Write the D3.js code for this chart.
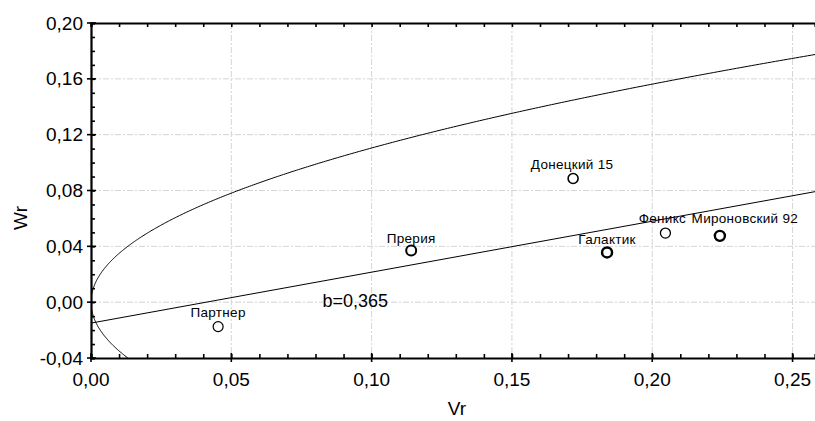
<!DOCTYPE html>
<html><head><meta charset="utf-8">
<script src="https://cdn.jsdelivr.net/npm/d3@7"></script>
<style>body{margin:0;background:#fff}svg{display:block}text{font-family:"Liberation Sans",Arial,sans-serif}</style>
</head><body><svg id="c" width="815" height="421"></svg>
<script>
// Data
const names = ["Партнер","Прерия","Донецкий 15","Галактик","Феникс","Мироновский 92"];
const vr = [0.0453, 0.1141, 0.1718, 0.1839, 0.2047, 0.2241];
const wr = [-0.0175, 0.0370, 0.0886, 0.0356, 0.0495, 0.0475];
const xTicks = [0, 0.05, 0.10, 0.15, 0.20, 0.25];
const yTicks = [-0.04, 0, 0.04, 0.08, 0.12, 0.16, 0.20];
const regA = -0.0150, regB = 0.365;   // regression Wr = a + b*Vr
const parabolaVp = 0.122;             // limiting parabola Wr^2 = Vp*Vr
const slopeLabel = "b=0,365";

const svg = d3.select("#c");
const W = 815, H = 421;
const m = {l: 91, t: 23, r: 0, b: 63};
const x = d3.scaleLinear().domain([0, 0.258]).range([m.l, W - m.r]);
const y = d3.scaleLinear().domain([-0.04, 0.20]).range([H - m.b, m.t]);
const fmt = d => d3.format(".2f")(d).replace(".", ",").replace("−", "-");

const clipId = "pc";
svg.append("clipPath").attr("id", clipId).append("rect")
  .attr("x", m.l).attr("y", m.t).attr("width", W - m.r - m.l).attr("height", H - m.b - m.t);

// grid
const g = svg.append("g");
g.selectAll(".gx").data(xTicks.filter(d => d > 0)).join("line")
  .attr("x1", d => x(d)).attr("x2", d => x(d)).attr("y1", m.t).attr("y2", H - m.b)
  .attr("stroke", "#d4d4d4").attr("stroke-dasharray", "6,2,2,2");
g.selectAll(".gy").data(yTicks.filter(d => d > -0.04 && d < 0.2)).join("line")
  .attr("x1", m.l).attr("x2", W - m.r).attr("y1", d => y(d)).attr("y2", d => y(d))
  .attr("stroke", "#d4d4d4").attr("stroke-dasharray", "6,2,2,2");

// curves
const plot = svg.append("g").attr("clip-path", `url(#${clipId})`);
const line = d3.line().x(d => x(d[0])).y(d => y(d[1]));
const parab = [];
for (let w = -0.06; w <= 0.2; w += 0.0005) parab.push([w * w / parabolaVp, w]);
plot.append("path").attr("d", line(parab)).attr("fill", "none").attr("stroke", "#000").attr("stroke-width", 1);
const reg = x.domain().map(v => [v, regA + regB * v]);
plot.append("path").attr("d", line(reg)).attr("fill", "none").attr("stroke", "#000").attr("stroke-width", 1);

// axes
const axB = d3.axisBottom(x).tickValues(d3.range(0, 0.2581, 0.01)).tickSize(-4).tickFormat("");
const axT = d3.axisTop(x).tickValues(d3.range(0, 0.2581, 0.01)).tickSize(-4).tickFormat("");
const axL = d3.axisLeft(y).tickValues(d3.range(-0.04, 0.2001, 0.01)).tickSize(-4).tickFormat("");
[[axB, `translate(0,${H - m.b})`], [axT, `translate(0,${m.t})`], [axL, `translate(${m.l},0)`]].forEach(([a, t]) => {
  const gg = svg.append("g").attr("transform", t).call(a);
  gg.select(".domain").attr("stroke-width", 2.2);
  gg.selectAll(".tick line").attr("stroke-width", 1.6);
});
// major tick labels
svg.selectAll(".xl").data(xTicks).join("text")
  .attr("x", d => x(d)).attr("y", H - m.b + 28).attr("text-anchor", "middle")
  .attr("font-size", 19).text(fmt);
svg.selectAll(".yl").data(yTicks).join("text")
  .attr("x", m.l - 8).attr("y", d => y(d)).attr("dy", "0.35em").attr("text-anchor", "end")
  .attr("font-size", 19).text(fmt);
// major ticks longer
svg.selectAll(".yt").data(yTicks).join("line")
  .attr("x1", m.l - 4).attr("x2", m.l + 5).attr("y1", d => y(d)).attr("y2", d => y(d)).attr("stroke", "#000").attr("stroke-width", 1.6);
svg.selectAll(".xt").data(xTicks).join("line")
  .attr("x1", d => x(d)).attr("x2", d => x(d)).attr("y1", H - m.b - 5).attr("y2", H - m.b + 4).attr("stroke", "#000").attr("stroke-width", 1.6);

// axis titles
svg.append("text").attr("x", 457).attr("y", 415).attr("text-anchor", "middle").attr("font-size", 19).text("Vr");
svg.append("text").attr("transform", "translate(27,218) rotate(-90)").attr("text-anchor", "middle").attr("font-size", 19).text("Wr");

// points
const bold = {"Прерия": 2, "Галактик": 2.4, "Мироновский 92": 2.4, "Донецкий 15": 1.6, "Феникс": 1.3, "Партнер": 1.2};
const labOff = {"Партнер": [0, -10], "Прерия": [0, -8], "Донецкий 15": [-1, -9], "Галактик": [0, -8], "Феникс": [-3, -10], "Мироновский 92": [25, -13]};
names.forEach((n, i) => {
  svg.append("ellipse").attr("cx", x(vr[i])).attr("cy", y(wr[i])).attr("rx", 5).attr("ry", 5)
    .attr("fill", "none").attr("stroke", "#000").attr("stroke-width", bold[n]);
  svg.append("text").attr("x", x(vr[i]) + labOff[n][0]).attr("y", y(wr[i]) + labOff[n][1])
    .attr("text-anchor", "middle").attr("font-size", 13.5).attr("letter-spacing", 0.3).text(n);
});
svg.append("text").attr("x", x(0.0825)).attr("y", 307).attr("font-size", 18).text(slopeLabel);
</script></body></html>
